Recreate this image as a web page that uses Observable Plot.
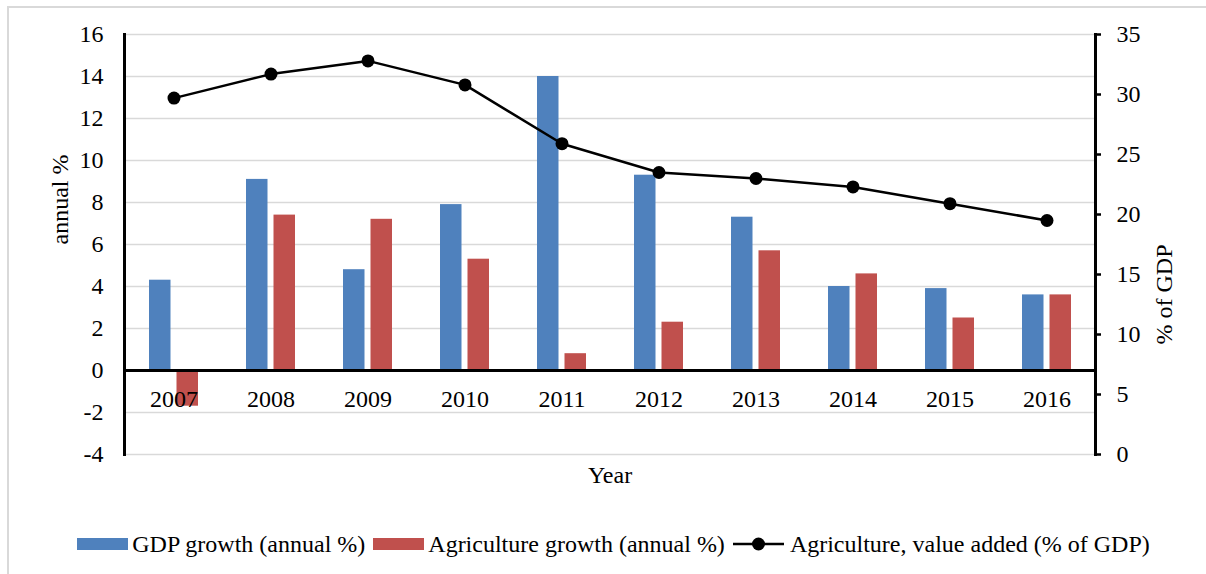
<!DOCTYPE html>
<html>
<head>
<meta charset="utf-8">
<script src="https://cdn.jsdelivr.net/npm/d3@7"></script>
<script src="https://cdn.jsdelivr.net/npm/@observablehq/plot@0.6"></script>
<style>
  html, body { margin: 0; padding: 0; background: #fff; }
  #wrap { position: relative; width: 1206px; height: 574px; overflow: hidden;
          font-family: "Liberation Serif", "Times New Roman", serif; color: #000; }
  #frame { position: absolute; left: 7px; top: 6px; width: 1400px; height: 800px;
           border: 2px solid #d9d9d9; box-sizing: border-box; }
  #chart { position: absolute; left: 0; top: 0; }
  #legend { position: absolute; left: 0; top: 520px; width: 1206px; height: 48px;
            display: flex; align-items: center; justify-content: center;
            padding-left: 29px; box-sizing: border-box; font-size: 24px;
            font-family: "Liberation Serif", "Times New Roman", serif; }
  #legend .item { display: flex; align-items: center; margin-right: 8px; }
  #legend .sw { width: 51px; height: 12px; margin-right: 4px; }
  #legend svg { margin-right: 6px; }
</style>
</head>
<body>
<div id="wrap">
  <div id="frame"></div>
  <div id="chart"></div>
  <div id="legend"></div>
</div>
<script>
// Annual series, 2007–2016
const years = [2007, 2008, 2009, 2010, 2011, 2012, 2013, 2014, 2015, 2016];
const gdpGrowth = [4.3, 9.1, 4.8, 7.9, 14.0, 9.3, 7.3, 4.0, 3.9, 3.6];
const agriGrowth = [-1.7, 7.4, 7.2, 5.3, 0.8, 2.3, 5.7, 4.6, 2.5, 3.6];
const agriShare = [29.7, 31.7, 32.8, 30.8, 25.9, 23.5, 23.0, 22.3, 20.9, 19.5];

// Axis ticks: left axis (annual %), right axis (% of GDP)
const leftTicks = [-4, -2, 0, 2, 4, 6, 8, 10, 12, 14, 16];
const rightTicks = [0, 5, 10, 15, 20, 25, 30, 35];

const seriesNames = ["GDP growth (annual %)", "Agriculture growth (annual %)", "Agriculture, value added (% of GDP)"];
const colors = ["#4f81bd", "#c0504d", "#000000"];

// The right axis (0–35) shares the plot height with the left axis (-4–16)
const [lMin, lMax] = [leftTicks[0], leftTicks[leftTicks.length - 1]];
const [rMin, rMax] = [rightTicks[0], rightTicks[rightTicks.length - 1]];
const toLeft = v => lMin + (v - rMin) * (lMax - lMin) / (rMax - rMin);
const toRight = v => rMin + (v - lMin) * (rMax - rMin) / (lMax - lMin);

const rows = years.map((year, i) => ({
  year, gdp: gdpGrowth[i], agri: agriGrowth[i], share: agriShare[i]
}));

const font = "Liberation Serif, Times New Roman, serif";
const fs = 24;

const chart = Plot.plot({
  width: 1206,
  height: 520,
  marginTop: 34,
  marginBottom: 66,
  marginLeft: 124,
  marginRight: 111,
  style: { fontFamily: font, fontSize: fs + "px", color: "#000", background: "transparent", overflow: "visible" },
  x: { type: "band", domain: years, padding: 0, axis: null },
  y: { domain: [lMin, lMax], axis: null },
  marks: [
    Plot.ruleY(leftTicks, { stroke: "#d9d9d9", strokeWidth: 1.5 }),
    Plot.barY(rows, { x: "year", y: "gdp", fill: colors[0], insetLeft: 24, insetRight: 51.5 }),
    Plot.barY(rows, { x: "year", y: "agri", fill: colors[1], insetLeft: 51.5, insetRight: 24 }),
    Plot.ruleY([0], { stroke: "#000", strokeWidth: 3 }),
    Plot.frame({ anchor: "left", stroke: "#000", strokeWidth: 3 }),
    Plot.frame({ anchor: "right", stroke: "#000", strokeWidth: 3 }),
    Plot.axisY(leftTicks, {
      anchor: "left", tickSize: 0, tickPadding: 21, label: null,
      tickFormat: d => String(d), fontSize: fs, fontFamily: font
    }),
    Plot.axisY(rightTicks.map(toLeft), {
      anchor: "right", tickSize: 5, tickPadding: 16, strokeWidth: 2.5, label: null,
      tickFormat: d => String(Math.round(toRight(d))), fontSize: fs, fontFamily: font
    }),
    Plot.text(rows, { x: "year", y: () => 0, text: d => String(d.year), dy: 29, fontSize: fs, fontFamily: font }),
    Plot.text(["Year"], { frameAnchor: "bottom", lineAnchor: "middle", dy: 21, fontSize: fs, fontFamily: font }),
    Plot.text(["annual %"], { frameAnchor: "left", rotate: -90, dx: -64, fontSize: fs, fontFamily: font }),
    Plot.text(["% of GDP"], { frameAnchor: "right", rotate: -90, dx: 69, fontSize: fs, fontFamily: font }),
    Plot.line(rows, { x: "year", y: d => toLeft(d.share), stroke: colors[2], strokeWidth: 2.5 }),
    Plot.dot(rows, { x: "year", y: d => toLeft(d.share), r: 6.5, fill: colors[2] })
  ]
});
document.getElementById("chart").append(chart);

// Legend below the chart
const legend = document.getElementById("legend");
seriesNames.forEach((name, i) => {
  const item = document.createElement("div");
  item.className = "item";
  if (i < 2) {
    const sw = document.createElement("div");
    sw.className = "sw";
    sw.style.background = colors[i];
    item.append(sw);
  } else {
    const ns = "http://www.w3.org/2000/svg";
    const svg = document.createElementNS(ns, "svg");
    svg.setAttribute("width", 51); svg.setAttribute("height", 16);
    const ln = document.createElementNS(ns, "line");
    ln.setAttribute("x1", 0); ln.setAttribute("x2", 51);
    ln.setAttribute("y1", 8); ln.setAttribute("y2", 8);
    ln.setAttribute("stroke", colors[i]); ln.setAttribute("stroke-width", 2.5);
    const c = document.createElementNS(ns, "circle");
    c.setAttribute("cx", 25.5); c.setAttribute("cy", 8); c.setAttribute("r", 6.5);
    c.setAttribute("fill", colors[i]);
    svg.append(ln, c);
    item.append(svg);
  }
  const t = document.createElement("span");
  t.textContent = name;
  item.append(t);
  legend.append(item);
});
</script>
</body>
</html>
